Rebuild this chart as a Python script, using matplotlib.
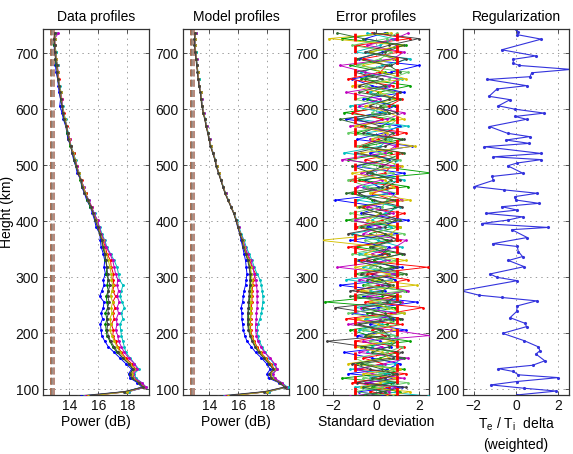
import matplotlib
matplotlib.use('Agg')
import matplotlib.pyplot as plt

plt.rcParams['font.family'] = ['Liberation Sans', 'DejaVu Sans']
plt.rcParams['lines.scale_dashes'] = False

# ---------------- data ----------------
heights = [88, 96, 104, 112, 120, 128, 136, 146, 156, 166,
           176, 186, 196, 206, 216, 226, 236, 246, 256, 266,
           276, 286, 296, 306, 318, 330, 342, 354, 366, 378,
           390, 402, 414, 426, 438, 450, 462, 474, 486, 498,
           510, 522, 534, 546, 558, 570, 582, 594, 606, 618,
           630, 642, 654, 666, 678, 690, 702, 714, 726, 736]

profile_colors = ['#0000ff', '#008000', '#ff0000', '#00bfbf', '#bf00bf', '#bfbf00', '#404040']

data_blue = [14.8, 17.9, 19.0, 18.7, 18.2, 18.1, 18.3, 17.9, 17.5, 17.1,
             16.7, 16.45, 16.25, 16.2, 16.15, 16.3, 16.2, 16.35, 16.4, 16.1,
             16.25, 16.4, 16.35, 16.5, 16.4, 16.45, 16.35, 16.2, 16.15, 16.1,
             15.85, 15.75, 15.6, 15.45, 15.2, 15.05, 14.85, 14.8, 14.55, 14.45,
             14.3, 14.2, 14.15, 13.9, 13.85, 13.75, 13.6, 13.5, 13.35, 13.4,
             13.3, 13.25, 13.2, 13.1, 13.05, 13.1, 13.0, 12.95, 13.05, 13.0]
data_green = [15.1, 17.9, 19.1, 18.8, 18.3, 18.2, 18.4, 18.1, 17.7, 17.3,
              17.0, 16.8, 16.6, 16.55, 16.5, 16.6, 16.5, 16.65, 16.6, 16.55,
              16.7, 16.6, 16.7, 16.55, 16.6, 16.5, 16.45, 16.3, 16.25, 16.1,
              15.95, 15.8, 15.7, 15.45, 15.25, 15.15, 14.9, 14.75, 14.7, 14.45,
              14.35, 14.3, 14.05, 14.0, 13.85, 13.8, 13.65, 13.6, 13.5, 13.4,
              13.45, 13.3, 13.2, 13.25, 13.1, 13.05, 13.1, 12.95, 13.0, 13.1]
data_red = [15.2, 18.1, 19.2, 18.9, 18.5, 18.3, 18.6, 18.3, 17.9, 17.6,
            17.35, 17.2, 17.0, 17.05, 16.9, 17.1, 17.0, 17.15, 17.0, 17.2,
            17.0, 17.1, 17.0, 17.05, 16.9, 16.85, 16.6, 16.5, 16.3, 16.2,
            16.05, 15.9, 15.7, 15.55, 15.3, 15.15, 14.95, 14.85, 14.6, 14.55,
            14.4, 14.3, 14.1, 14.05, 13.9, 13.85, 13.7, 13.65, 13.5, 13.5,
            13.35, 13.3, 13.3, 13.2, 13.2, 13.1, 13.05, 13.05, 12.95, 13.0]
data_cyan = [15.0, 18.1, 19.3, 19.0, 18.6, 18.5, 18.8, 18.5, 18.2, 17.9,
             17.8, 17.7, 17.6, 17.55, 17.5, 17.7, 17.6, 17.8, 17.65, 17.5,
             17.6, 17.7, 17.45, 17.4, 17.3, 17.1, 16.85, 16.6, 16.45, 16.25,
             16.1, 15.9, 15.75, 15.5, 15.35, 15.1, 15.0, 14.8, 14.7, 14.5,
             14.45, 14.25, 14.15, 14.0, 13.95, 13.8, 13.75, 13.6, 13.55, 13.45,
             13.4, 13.35, 13.25, 13.2, 13.2, 13.1, 13.1, 13.0, 13.0, 13.1]
data_magenta = [15.1, 18.0, 19.3, 19.0, 18.5, 18.4, 18.7, 18.5, 18.1, 17.8,
                17.6, 17.4, 17.35, 17.2, 17.3, 17.25, 17.4, 17.3, 17.45, 17.3,
                17.4, 17.3, 17.35, 17.2, 17.1, 17.0, 16.8, 16.55, 16.4, 16.2,
                16.05, 15.95, 15.7, 15.55, 15.35, 15.1, 15.0, 14.8, 14.65, 14.55,
                14.4, 14.25, 14.1, 14.05, 13.9, 13.8, 13.7, 13.6, 13.5, 13.5,
                13.4, 13.3, 13.25, 13.25, 13.15, 13.1, 13.05, 13.0, 13.0, 13.25]
data_yellow = [15.3, 18.0, 19.1, 18.8, 18.4, 18.3, 18.5, 18.2, 17.8, 17.5,
               17.3, 17.1, 16.95, 16.8, 16.9, 16.8, 16.95, 16.9, 17.0, 16.85,
               16.95, 17.0, 16.9, 16.9, 16.8, 16.7, 16.55, 16.35, 16.3, 16.15,
               15.95, 15.85, 15.65, 15.5, 15.3, 15.1, 14.95, 14.8, 14.65, 14.5,
               14.4, 14.25, 14.1, 14.0, 13.9, 13.8, 13.7, 13.6, 13.5, 13.45,
               13.4, 13.3, 13.25, 13.2, 13.15, 13.1, 13.05, 13.0, 13.0, 13.05]
data_gray = [14.6, 17.8, 19.1, 18.8, 18.3, 18.2, 18.4, 18.1, 17.7, 17.35,
             17.1, 16.85, 16.7, 16.6, 16.65, 16.6, 16.7, 16.65, 16.75, 16.65,
             16.7, 16.8, 16.7, 16.65, 16.6, 16.55, 16.45, 16.35, 16.25, 16.1,
             15.95, 15.8, 15.65, 15.5, 15.3, 15.05, 14.9, 14.8, 14.6, 14.5,
             14.35, 14.2, 14.1, 13.95, 13.9, 13.8, 13.65, 13.55, 13.5, 13.4,
             13.35, 13.3, 13.2, 13.15, 13.15, 13.05, 13.0, 13.0, 12.95, 13.0]

model_blue = [15.0, 17.9, 19.2, 18.8, 18.1, 18.0, 18.2, 17.95, 17.6, 17.2,
              16.9, 16.6, 16.45, 16.35, 16.3, 16.25, 16.25, 16.2, 16.3, 16.35,
              16.4, 16.5, 16.55, 16.6, 16.55, 16.5, 16.4, 16.3, 16.2, 16.1,
              15.95, 15.85, 15.7, 15.5, 15.3, 15.1, 14.95, 14.8, 14.65, 14.5,
              14.4, 14.25, 14.1, 14.0, 13.9, 13.8, 13.7, 13.6, 13.5, 13.45,
              13.4, 13.3, 13.25, 13.2, 13.15, 13.1, 13.05, 13.0, 13.0, 13.05]
model_green = [15.1, 18.0, 19.3, 18.9, 18.3, 18.2, 18.45, 18.15, 17.8, 17.45,
               17.2, 17.0, 16.85, 16.75, 16.7, 16.7, 16.7, 16.75, 16.75, 16.8,
               16.8, 16.85, 16.85, 16.85, 16.8, 16.7, 16.55, 16.4, 16.3, 16.15,
               16.0, 15.85, 15.7, 15.5, 15.3, 15.12, 14.95, 14.8, 14.67, 14.5,
               14.42, 14.25, 14.12, 14.0, 13.92, 13.8, 13.72, 13.6, 13.52, 13.45,
               13.42, 13.3, 13.27, 13.2, 13.17, 13.1, 13.07, 13.02, 13.02, 13.07]
model_red = [15.2, 18.1, 19.3, 18.9, 18.35, 18.25, 18.5, 18.25, 17.9, 17.55,
             17.3, 17.1, 16.95, 16.85, 16.85, 16.85, 16.9, 16.9, 16.95, 16.95,
             16.95, 17.0, 17.05, 17.2, 16.95, 16.8, 16.6, 16.45, 16.3, 16.15,
             16.0, 15.85, 15.7, 15.5, 15.3, 15.1, 14.95, 14.8, 14.65, 14.5,
             14.4, 14.25, 14.1, 14.0, 13.9, 13.8, 13.7, 13.6, 13.5, 13.45,
             13.4, 13.3, 13.25, 13.2, 13.15, 13.1, 13.05, 13.0, 13.0, 13.05]
model_cyan = [15.0, 18.1, 19.4, 19.0, 18.45, 18.35, 18.65, 18.45, 18.15, 17.85,
              17.65, 17.45, 17.35, 17.3, 17.35, 17.5, 17.6, 17.65, 17.7, 17.7,
              17.65, 17.6, 17.5, 17.3, 17.1, 16.95, 16.75, 16.55, 16.4, 16.2,
              16.05, 15.9, 15.72, 15.52, 15.32, 15.12, 14.97, 14.82, 14.67, 14.52,
              14.42, 14.27, 14.12, 14.02, 13.92, 13.82, 13.72, 13.62, 13.52, 13.47,
              13.42, 13.32, 13.27, 13.22, 13.17, 13.12, 13.07, 13.02, 13.02, 13.07]
model_magenta = [15.1, 18.0, 19.3, 19.0, 18.5, 18.4, 18.7, 18.5, 18.2, 17.8,
                 17.55, 17.35, 17.25, 17.2, 17.2, 17.25, 17.25, 17.3, 17.3, 17.3,
                 17.3, 17.25, 17.2, 17.1, 17.0, 16.85, 16.65, 16.45, 16.35, 16.15,
                 16.02, 15.87, 15.7, 15.52, 15.3, 15.12, 14.95, 14.82, 14.65, 14.52,
                 14.4, 14.27, 14.1, 14.02, 13.9, 13.82, 13.7, 13.62, 13.5, 13.47,
                 13.4, 13.32, 13.25, 13.22, 13.15, 13.12, 13.05, 13.02, 13.0, 13.07]
model_yellow = [15.3, 18.0, 19.25, 18.85, 18.3, 18.2, 18.45, 18.2, 17.85, 17.5,
                17.25, 17.05, 16.9, 16.8, 16.8, 16.8, 16.85, 16.85, 16.85, 16.9,
                16.9, 16.95, 16.95, 16.9, 16.85, 16.75, 16.55, 16.4, 16.3, 16.15,
                16.0, 15.85, 15.7, 15.5, 15.3, 15.1, 14.95, 14.8, 14.65, 14.5,
                14.4, 14.25, 14.1, 14.0, 13.9, 13.8, 13.7, 13.6, 13.5, 13.45,
                13.4, 13.3, 13.25, 13.2, 13.15, 13.1, 13.05, 13.0, 13.0, 13.05]
model_gray = [14.6, 17.8, 19.2, 18.85, 18.25, 18.15, 18.4, 18.1, 17.75, 17.4,
              17.15, 16.95, 16.8, 16.7, 16.65, 16.65, 16.65, 16.7, 16.7, 16.75,
              16.75, 16.8, 16.8, 16.8, 16.75, 16.65, 16.5, 16.35, 16.25, 16.1,
              15.97, 15.83, 15.68, 15.48, 15.28, 15.08, 14.93, 14.78, 14.63, 14.48,
              14.38, 14.23, 14.08, 13.98, 13.88, 13.78, 13.68, 13.58, 13.48, 13.43,
              13.38, 13.28, 13.23, 13.18, 13.13, 13.08, 13.03, 12.98, 12.98, 13.03]

noise_levels = [12.72, 12.78, 12.92, 12.98]
noise_colors = ['#a0522d', '#8c7a70', '#d98c8c', '#b08878']

error_colors = ['#0000ff', '#00a000', '#ff0000', '#00bfbf', '#bf00bf',
                '#d4c000', '#404040', '#66cc66', '#2e6b2e']
err_1 = [0.3, -0.8, 1.2, -0.4, 0.9, -1.3, 0.5, 1.1, -0.2, -1.5,
         0.7, 0.2, -0.9, 1.4, -0.3, 0.8, -1.1, 0.1, 1.9, -0.6,
         0.4, -1.7, 0.9, -0.2, 1.2, -0.8, 0.3, 0.6, -1.2, 1.0,
         -0.4, 1.5, -0.7, 0.2, -1.9, 0.8, 0.1, -0.5, 1.3, -1.0,
         0.6, -0.3, 1.7, -0.9, 0.4, 1.1, -1.4, 0.2, 0.9, -0.6,
         1.3, -0.2, -1.1, 0.7, 2.0, -0.8, 0.3, 1.0, -0.5, 0.4]
err_2 = [-0.5, 1.1, -0.2, 0.7, -1.6, 0.4, 1.3, -0.9, 0.2, 1.0,
         -0.7, 1.6, -0.3, -1.2, 0.5, 1.1, -0.4, 0.9, -2.4, 0.3,
         1.4, -0.6, 0.2, -1.0, 0.8, -0.1, 1.2, -0.9, 0.5, -0.3,
         1.1, -1.4, 0.6, 0.9, -0.2, -1.1, 1.5, -0.8, 2.6, 0.2,
         -1.3, 0.7, -0.5, 1.2, -0.9, 0.3, 0.8, -1.5, 1.0, -0.4,
         0.1, 1.6, -0.7, 0.4, -1.2, 0.9, -0.3, 1.4, -1.6, 0.5]
err_3 = [1.0, -0.3, 0.6, -1.1, 0.2, 1.4, -0.8, 0.3, -0.6, 0.9,
         1.3, -1.0, 0.4, -0.2, 1.2, -1.4, 0.7, 2.2, -0.5, 0.8,
         -0.9, 0.1, 1.5, -0.4, 2.4, -0.7, 0.5, -1.3, 1.1, 0.4,
         -0.9, 0.3, 1.3, -0.6, 0.8, -0.2, 1.0, -1.2, 0.4, 0.7,
         -0.5, 1.2, -0.8, 0.1, 1.4, -0.7, 0.3, -1.1, 0.6, 1.2,
         -0.4, 0.8, -1.3, 0.2, 0.5, -0.6, 1.1, -0.9, 1.6, -0.2]
err_4 = [2.4, 0.4, -1.0, 0.8, -0.3, 0.6, -1.2, 0.9, 1.2, -0.4,
         -0.2, 0.7, 1.0, -0.8, 0.3, -0.5, 1.3, -1.0, 0.6, 1.1,
         -0.3, 0.5, -1.4, 0.9, -0.6, 0.4, -0.8, 1.2, 0.1, -1.1,
         0.7, -0.2, 0.4, 1.1, -0.9, 0.5, -0.6, 1.3, -0.3, 0.8,
         1.0, -1.5, 0.2, 0.6, -0.4, 1.5, -0.8, 0.4, -1.2, 0.9,
         -0.3, 0.5, 1.2, -0.7, 0.3, 1.6, -1.0, 0.2, 0.8, -0.4]
err_5 = [-1.2, 0.6, 0.9, -0.5, 1.3, -0.2, -0.9, 0.4, 1.5, -0.8,
         0.3, -0.6, 2.5, 0.7, -1.3, 0.2, 0.9, -0.7, 1.2, -0.4,
         1.5, 0.3, -0.8, 1.0, -1.8, 0.6, -0.2, 0.9, 1.4, -0.6,
         0.2, -1.0, 0.8, -0.4, 1.2, 0.6, -0.9, 0.3, -0.7, 1.1,
         -1.6, 0.4, 0.9, -0.3, 1.0, -1.2, 0.5, 1.3, -0.8, 0.2,
         -1.4, 0.6, 1.0, -0.5, -1.7, 0.8, 1.3, -0.4, 0.9, 1.5]
err_6 = [0.5, 1.6, -0.7, 0.2, 0.9, -0.6, 1.1, -1.3, 0.6, 0.3,
         -1.0, 0.8, -0.4, 1.0, 0.1, -0.9, 1.3, 0.5, -0.3, 1.1,
         -0.7, 1.9, -0.2, 0.6, -1.0, 1.4, -0.5, 0.3, -2.6, 0.7,
         1.1, -0.4, 0.2, -0.9, 1.6, -0.3, 0.8, 0.4, -1.1, 1.2,
         0.3, -0.7, 1.8, -0.2, 0.5, -1.0, 1.3, 0.6, -0.5, 0.9,
         0.2, -1.1, 1.4, 0.3, -0.6, 1.0, -0.3, 1.2, -2.2, 0.7]
err_7 = [-0.3, 0.2, 1.4, -0.9, 0.4, 1.0, -0.3, -1.1, 0.8, 1.2,
         -0.5, -2.3, 0.6, 0.3, -0.8, 1.2, -0.2, -1.9, 0.5, 0.9,
         -1.2, 0.6, 0.3, -0.7, 1.0, -0.4, 1.3, -0.2, 0.7, -1.3,
         0.4, 0.9, -0.6, 1.2, -0.1, -0.8, 0.5, 1.1, -0.4, 0.3,
         0.9, -1.0, 0.4, 1.3, -0.6, 0.2, -0.9, 1.0, -0.3, 0.6,
         1.1, -0.8, 0.3, -1.0, 0.7, 1.4, -0.5, 0.6, 2.0, -0.1]
err_8 = [0.8, -1.0, 0.3, 1.5, -0.6, 0.2, 0.8, -0.4, -1.0, 0.5,
         1.2, -0.3, 0.9, -0.6, 1.0, 0.4, -1.3, 0.6, 0.2, -0.9,
         1.3, -0.5, 0.7, 1.2, -0.3, 0.9, -1.1, 0.4, -0.5, 1.3,
         -0.8, 0.6, -1.2, 0.3, 0.5, 1.0, -0.4, -1.3, 0.8, -0.6,
         1.1, 0.2, -0.9, 0.7, -1.3, 0.6, 1.0, -0.2, 0.4, -1.0,
         0.8, -0.5, 0.6, 1.5, -0.9, 0.2, 0.7, -1.1, 0.5, 1.0]
err_9 = [-0.9, 0.4, -0.6, 1.0, -0.2, 0.8, 0.3, -0.7, 1.3, -0.2,
         0.6, 1.0, -0.5, 0.2, -1.0, 0.7, 0.4, -0.6, 1.1, -1.2,
         0.3, 0.8, -0.4, 1.4, 0.2, -1.0, 0.6, -0.3, 1.0, 0.4,
         -0.7, 1.1, 0.2, -0.8, 0.9, -1.4, 0.3, 0.7, -0.2, -1.1,
         0.5, 1.3, -0.6, 0.4, 0.8, -0.5, -1.7, 0.6, 0.2, 1.1,
         -0.8, 0.4, -0.5, 1.1, 0.6, -0.9, 0.4, 1.3, -0.6, -1.8]
sigma_bounds = [-1, 1]

reg_heights = [743, 737, 733, 725, 706, 695, 689, 682, 678, 671,
               665, 658, 653, 642, 636, 623, 617, 606, 600, 593,
               587, 582, 569, 557, 551, 545, 539, 533, 521, 515,
               510, 504, 499, 486, 480, 473, 462, 456, 450, 444,
               438, 432, 426, 420, 414, 408, 402, 396, 389, 385,
               371, 360, 355, 346, 337, 330, 319, 306, 300, 294,
               276, 268, 264, 258, 249, 239, 228, 218, 212, 200,
               187, 176, 169, 163, 151, 143, 137, 132, 126, 121,
               114, 108, 102, 97, 90]
reg_delta = [0.0, 0.11, 0.06, 1.19, -0.67, 0.94, -0.13, -0.13, 0.16, 2.6,
             0.74, 0.66, -1.35, 0.5, -0.9, -1.27, -0.28, -0.83, -0.05, 1.33,
             -0.05, 0.5, -1.25, -0.4, 0.64, -0.47, 0.63, -1.49, 1.2, -1.07,
             1.2, 0.06, -0.39, 0.31, -1.13, -1.07, -1.96, -0.56, 1.0, -0.05,
             -0.02, 1.08, -0.67, 0.06, -1.43, 0.31, -0.4, -1.62, 1.52, -0.2,
             0.53, -1.1, 0.06, 0.11, 0.31, -0.36, 0.39, -1.22, -0.9, 0.06,
             -2.6, -1.73, -0.67, 0.97, 0.06, 0.03, -0.28, 0.42, 0.5, -0.63,
             0.38, 1.05, 1.13, 0.94, 1.36, 0.78, -0.83, -0.13, 0.11, 2.0,
             0.03, -1.18, 0.39, 1.91, 0.03]

titles = ['Data profiles', 'Model profiles', 'Error profiles', 'Regularization']
xlabels = ['Power (dB)', 'Power (dB)', 'Standard deviation',
           'T$_\\mathregular{e}$ / T$_\\mathregular{i}$  delta\n(weighted)']
power_ticks = [14, 16, 18]
std_ticks = [-2, 0, 2]
height_ticks = [100, 200, 300, 400, 500, 600, 700]

FS = 10

# ---------------- figure ----------------
fig = plt.figure(figsize=(5.73, 4.54), dpi=100)
lefts = [0.0750, 0.3194, 0.5637, 0.8080]
axes = [fig.add_axes([l, 0.130, 0.185, 0.806]) for l in lefts]


def style(ax, xlim, xticks, title, xlabel):
    ax.set_xlim(xlim)
    ax.set_ylim(90, 743)
    ax.set_xticks(xticks)
    ax.set_yticks(height_ticks)
    ax.tick_params(direction='in', top=True, right=True, length=3, width=0.6,
                   labelsize=FS, pad=3, color='#333333', labelcolor='#111111')
    ax.grid(True, linestyle=(0, (1, 3)), color='#8c8c8c', linewidth=0.6)
    for s in ax.spines.values():
        s.set_color('#333333')
        s.set_linewidth(0.9)
    ax.set_title(title, fontsize=FS, pad=6)
    ax.set_xlabel(xlabel, fontsize=FS, labelpad=1.5, linespacing=1.5)


data_series = [data_blue, data_green, data_red, data_cyan, data_magenta, data_yellow, data_gray]
model_series = [model_blue, model_green, model_red, model_cyan, model_magenta, model_yellow, model_gray]
error_series = [err_1, err_2, err_3, err_4, err_5, err_6, err_7, err_8, err_9]

for ax, series in ((axes[0], data_series), (axes[1], model_series)):
    for vals, c in zip(series, profile_colors):
        ax.plot(vals, heights, color=c, lw=0.7, marker='.', ms=2.2, zorder=3)
    for nl, nc in zip(noise_levels, noise_colors):
        ax.axvline(nl, color=nc, lw=1.2, dashes=(5, 2.4), zorder=2)

for vals, c in zip(error_series, error_colors):
    axes[2].plot(vals, heights, color=c, lw=0.65, marker='.', ms=2.0, zorder=3)
for b in sigma_bounds:
    axes[2].axvline(b, color='#ff0000', lw=2.0, dashes=(5.5, 3), zorder=5)

axes[3].plot(reg_delta, reg_heights, color='#3333dd', lw=0.8, marker='.', ms=2.5)

style(axes[0], (12.19, 19.5), power_ticks, titles[0], xlabels[0])
style(axes[1], (12.19, 19.5), power_ticks, titles[1], xlabels[1])
style(axes[2], (-2.47, 2.47), std_ticks, titles[2], xlabels[2])
style(axes[3], (-2.5, 2.5), std_ticks, titles[3], xlabels[3])
axes[0].set_ylabel('Height (km)', fontsize=FS, labelpad=1)

fig.savefig('out.png', dpi=100)
